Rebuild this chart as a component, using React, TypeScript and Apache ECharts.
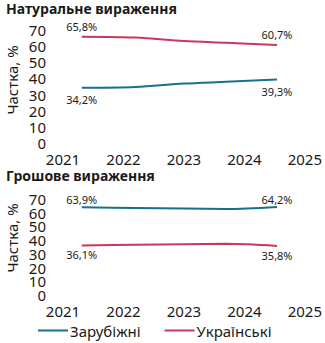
import React, { useEffect, useRef } from "react";
import * as echarts from "echarts";

const years = [2021.31, 2022.2, 2023.0, 2023.7, 2024.54];
const natForeign = [34.2, 34.7, 36.8, 37.9, 39.3];
const natUkr = [65.8, 65.3, 63.2, 62.1, 60.7];
const monForeign = [63.9, 63.4, 63.0, 62.7, 64.2];
const monUkr = [36.1, 36.6, 37.0, 37.3, 35.8];
const yTicks = [0, 10, 20, 30, 40, 50, 60, 70];
const xTicks = [2021, 2022, 2023, 2024, 2025];
const seriesNames = ["Зарубіжні", "Українські"];
const panelTitles = ["Натуральне вираження", "Грошове вираження"];
const yName = "Частка, %";

const BLUE = "#17708c";
const RED = "#c8385a";
const FONT = "Noto Sans";

function fmt(v: number) {
  return v.toFixed(1).replace(".", ",") + "%";
}

function makeData(vals: number[], pos: string, dist: number) {
  return vals.map((v, i) => {
    const item: any = { value: [years[i], v] };
    if (i === 0 || i === vals.length - 1) {
      item.label = { show: true, position: pos, distance: dist };
    }
    return item;
  });
}

export default function App() {
  const ref = useRef<HTMLDivElement>(null);
  useEffect(() => {
    const chart = echarts.init(ref.current!, undefined, { renderer: "svg" });
    const xAxis = (gi: number) => ({
      type: "value",
      gridIndex: gi,
      min: xTicks[0],
      max: xTicks[xTicks.length - 1],
      interval: 1,
      axisLine: { show: false },
      axisTick: { show: false },
      splitLine: { show: false },
      axisLabel: {
        formatter: (v: number) => String(v),
        fontFamily: FONT,
        fontSize: 15,
        color: "#1a1a1a",
        margin: 8,
        showMinLabel: true,
        showMaxLabel: true,
      },
    });
    const yAxis = (gi: number, ticks: number[]) => ({
      type: "value",
      gridIndex: gi,
      position: "left",
      offset: 0,
      min: yTicks[0],
      max: yTicks[yTicks.length - 1],
      interval: 10,
      axisLine: { show: false },
      axisTick: { show: false },
      splitLine: { show: false },
      axisLabel: {
        customValues: ticks,
        fontFamily: FONT,
        fontSize: 15,
        color: "#1a1a1a",
        margin: 17,
        showMinLabel: true,
        showMaxLabel: true,
        hideOverlap: false,
      },
    });
    const labelStyle = {
      show: false,
      fontFamily: FONT,
      fontSize: 11,
      color: "#1a1a1a",
      formatter: (p: any) => fmt(p.value[1]),
    };
    const line = (name: string, color: string, gi: number, data: any[]) => ({
      type: "line",
      name,
      xAxisIndex: gi,
      yAxisIndex: gi,
      data,
      smooth: 0.3,
      symbol: "circle",
      symbolSize: 0.01,
      showSymbol: true,
      lineStyle: { color, width: 2 },
      itemStyle: { color },
      label: labelStyle,
      labelLayout: { hideOverlap: false },
    });
    chart.setOption({
      animation: false,
      grid: [
        { left: 63, right: 20, top: 30, height: 113 },
        { left: 63, right: 20, top: 199, height: 96 },
      ],
      xAxis: [xAxis(0), xAxis(1)],
      yAxis: [
        yAxis(0, yTicks),
        yAxis(1, yTicks.filter((_, i) => i % 2 === 0)),
        yAxis(1, yTicks.filter((_, i) => i % 2 === 1)),
      ],
      legend: {
        data: seriesNames,
        left: 33,
        top: 318,
        icon: "rect",
        itemWidth: 30,
        itemHeight: 2,
        itemGap: 24,
        textStyle: { fontFamily: FONT, fontSize: 15, color: "#1a1a1a", padding: [0, 0, 0, -3] },
      },
      graphic: [
        { type: "text", left: 6, top: 1, style: { text: panelTitles[0], font: `bold 14px '${FONT}'`, fill: "#1a1a1a" } },
        { type: "text", left: 6, top: 168, style: { text: panelTitles[1], font: `bold 14px '${FONT}'`, fill: "#1a1a1a" } },
        { type: "text", x: 12, y: 80, rotation: Math.PI / 2, style: { text: yName, font: `15px '${FONT}'`, fill: "#1a1a1a", align: "center", verticalAlign: "middle" } },
        { type: "text", x: 12, y: 238, rotation: Math.PI / 2, style: { text: yName, font: `15px '${FONT}'`, fill: "#1a1a1a", align: "center", verticalAlign: "middle" } },
      ],
      series: [
        line(seriesNames[0], BLUE, 0, makeData(natForeign, "bottom", 6)),
        line(seriesNames[1], RED, 0, makeData(natUkr, "top", 5)),
        line(seriesNames[0], BLUE, 1, makeData(monForeign, "top", 2)),
        line(seriesNames[1], RED, 1, makeData(monUkr, "bottom", 4)),
      ],
    });
    return () => chart.dispose();
  }, []);
  return (
    <div
      ref={ref}
      style={{ position: "fixed", left: 0, top: 0, width: 325, height: 343, background: "#fff" }}
    />
  );
}
